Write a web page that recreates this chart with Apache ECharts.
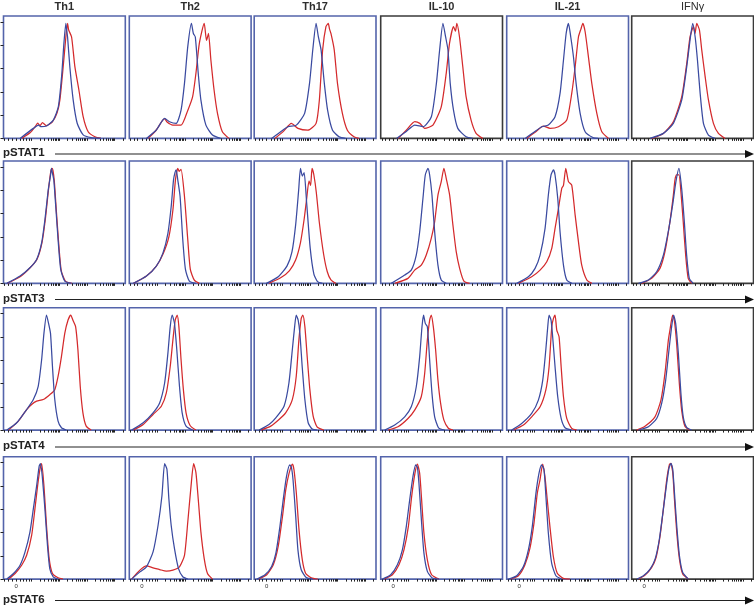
<!DOCTYPE html>
<html><head><meta charset="utf-8">
<script src="https://cdn.jsdelivr.net/npm/echarts@6/dist/echarts.min.js"></script>
<style>html,body{margin:0;padding:0;background:#fff}#c{width:754px;height:606px}</style>
</head><body><div id="c"></div>
<script>
const columns = ['Th1','Th2','Th17','IL-10','IL-21','IFNγ'];
const rowLabels = ['pSTAT1','pSTAT3','pSTAT4','pSTAT6'];
const zeroTick = 10.3;

// Row 1 – pSTAT1  ([fluorescence position (% of axis), % of max])
const r1c1Blue = [[13.6,0],[24.5,8.6],[28.6,11.4],[31,10],[35.4,10.6],[40.9,15.7],[45,27],[47.7,53],[49.6,81.5],[51.2,98.7],[52,92],[52.6,87],[54.5,61],[57.2,33],[60.5,13],[65.4,3],[72,0.6],[80,0]];
const r1c1Red  = [[15,0],[22,5],[26,10],[28,13],[30,11],[32,13.5],[35,11],[40,14],[44,22],[46.3,33],[49,61.5],[51.2,87],[52.6,98.7],[53.5,93],[55.9,87],[58.6,61.5],[61.9,41.5],[65.4,18.6],[69.5,5.7],[75,1.4],[80,0]];
const r1c2Blue = [[14.1,0],[22.2,7.2],[29,17.2],[33,14.3],[38.5,12.9],[42.5,24.3],[45.3,47.2],[48,78.7],[51,98.7],[52.6,90],[54.2,87],[56.6,55.8],[58.8,32.9],[62.9,11.4],[68.3,2.9],[75,0]];
const r1c2Red  = [[15.4,0],[22,7],[27,15],[29,17],[31,14],[35.8,11.4],[42.5,11.4],[48,24],[52,35.8],[54.7,55.8],[57.5,81.5],[61.5,98.7],[63.4,84],[65,90],[67,67],[69.6,41.5],[72.4,21.5],[76.4,5.7],[81.8,0]];
const r1c3Blue = [[14.3,0],[22,6],[27.8,10],[34.6,11.4],[41.4,21.5],[45.4,47],[48.1,76],[50.8,98.7],[52.7,87],[54.9,76],[57.6,47],[60.3,24],[64.3,7],[69.7,1.4],[75.1,0]];
const r1c3Red  = [[17,0],[24,6],[30.5,12.9],[35.9,8.6],[44,7],[50.8,12.9],[53.5,33],[56.2,76],[58.9,95.8],[60.8,98.7],[61.8,94],[63,90],[65.7,76],[68.4,47],[72.4,21.5],[76.5,7],[81.9,1.4],[86,0]];
const r1c4Blue = [[13,0],[21,6],[28,11.4],[34.8,10],[41.6,18.6],[45.7,47],[48.4,76],[51.1,98.7],[53.3,87],[55.2,76],[57.1,47],[59.8,24],[63.3,8.6],[70.1,1.4],[75.5,0]];
const r1c4Red  = [[14.4,0],[21,7],[28,14.3],[32.1,12.9],[36.1,8.6],[42.9,11.4],[49.7,27],[53.8,55.8],[56.5,81.5],[59.8,95.8],[61.4,92],[62.5,98.7],[64.7,87],[67.4,61.5],[70.1,35.8],[74.2,15.7],[78.3,4.3],[83.7,0]];
const r1c5Blue = [[15.1,0],[22,5],[28.8,10],[34.2,11.4],[39.7,18.6],[43.8,38.6],[46.6,67],[48.8,90],[50.7,98.7],[52.6,87],[54.8,70],[57,47],[60.3,21.5],[64.4,5.7],[71.2,0.5],[75,0]];
const r1c5Red  = [[16.4,0],[23,5],[30.1,10.6],[35.6,8.6],[42.5,10],[49.3,15.7],[53.4,38.6],[56.2,61.5],[58.9,87],[61,94],[62.5,98.7],[64.4,91.5],[67.1,70],[69.9,47],[74,21.5],[78.1,5.7],[83.6,0]];
const r1c6Blue = [[15.1,0],[26,4.3],[34.2,12.9],[41.1,33],[45.2,61.5],[47.9,84.4],[50.1,98.7],[52.1,87],[54,67],[56.2,38.6],[58.9,12.9],[63,2.9],[68.5,0]];
const r1c6Red  = [[16.4,0],[26,4.3],[34.2,14.3],[41.1,35.8],[45.2,64.4],[47.9,87],[50.7,95.8],[52,90],[53.4,98.7],[55.6,93],[57.5,76],[60.3,53],[63,33],[67.1,12.9],[71.2,4.3],[76.7,0]];

// Row 2 – pSTAT3
const r2c1Blue = [[2.7,0],[13.6,6.3],[21.7,13.4],[27.2,20.5],[31.3,34.7],[34,54.6],[36.7,80],[38.5,92],[39.4,98.7],[40.3,94],[41.3,88.8],[42.9,66],[44.8,37.6],[47,12],[50.3,2],[55.7,0]];
const r2c1Red  = [[3,0],[14,6],[22,13.6],[27.6,21],[31.6,35],[34.4,55.5],[37,81],[38.8,96],[39.8,98.7],[40.6,97],[41.7,88],[43.2,65],[45.2,36],[47.4,11],[50.8,2],[56,0]];
const r2c2Blue = [[3.3,0],[14.1,6.3],[22.2,14.8],[27.6,26],[31.7,43],[34.4,66],[36.3,88.8],[37.5,95],[38.5,97.3],[39.8,88.8],[41.7,74.6],[43.9,37.6],[46.1,12],[49.3,2],[54.7,0]];
const r2c2Red  = [[3.5,0],[14.1,6.3],[22.2,14.8],[27.6,25],[32.5,40],[35.8,63],[37.9,88.8],[39.8,98.7],[41,96],[42.5,97.9],[45.3,74.6],[48,37.6],[50.1,12],[53.4,2.8],[57.5,0]];
const r2c3Blue = [[10,0],[20,6],[27,15],[31,27],[34,50],[36.5,80],[38,98.7],[39.5,92],[41,95],[43,70],[46,30],[49,8],[52,1.5],[56,0]];
const r2c3Red  = [[12,0],[22,5],[29,11],[34,20],[38,35],[41,55],[43,72],[45,88],[46.3,84],[47.5,98.7],[49,93],[51,78],[53.5,52],[57,25],[60,10],[63,3],[67,0]];
const r2c4Blue = [[8.7,0],[19.7,7.2],[25.1,11.4],[29.2,24.3],[32,44.3],[34.7,73],[36.6,93],[38.8,98.7],[40.2,93],[42.1,75.8],[44.3,44.3],[47,15.7],[49.7,2.9],[53.8,0]];
const r2c4Red  = [[11.5,0],[22.4,4.3],[27.9,11.4],[33.3,15.7],[37.4,24.3],[41.5,38.6],[44.3,53],[47,75.8],[49.7,87.3],[51.9,98.7],[53.8,90],[56.6,75.8],[59.3,50],[62,27.2],[64.8,12.9],[68.3,2],[73,0]];
const r2c5Blue = [[8.2,0],[17.8,5.7],[23.3,12.9],[27.4,24.3],[31.5,47.2],[34.2,75.8],[36.4,93],[38.4,97.3],[39.7,93],[41.9,73],[43.8,44.3],[46.6,15.7],[49.3,2.9],[53.4,0]];
const r2c5Red  = [[9.6,0],[20.5,5.7],[27.4,11.4],[32.9,18.6],[37,30],[39.7,47.2],[42.5,64.4],[45.2,81.5],[46.6,84],[48.5,98.7],[50.7,87.3],[53.4,84.4],[56.2,58.6],[58.9,35.8],[61.6,15.7],[65.8,2.9],[69.9,0]];
const r2c6Blue = [[5.5,0],[13.7,2.9],[20.5,10],[26,24.3],[30,44.3],[33.6,67.2],[36.3,87.3],[38.8,98.7],[41,81.5],[43.2,53],[45.1,24.3],[47.3,4.3],[50.5,0]];
const r2c6Red  = [[8.2,0],[16.4,4.3],[23.2,12.9],[27.3,27.2],[31.4,53],[34.2,75.8],[35.5,88.7],[36.9,93],[38.8,93],[40.4,78.7],[42.3,53],[44.3,24.3],[46.4,4.3],[49.2,0]];

// Row 3 – pSTAT4
const r3c1Blue = [[2.7,0],[10.9,6.3],[19,17.6],[24.5,26.2],[28.5,37.6],[31.3,60.3],[33.2,83],[35.3,98.7],[37,91.6],[38.6,83],[40.2,54.6],[42.1,26.2],[44.8,7.7],[47.6,2],[51.6,0]];
const r3c1Red  = [[4.1,0],[12.2,7.7],[19,17.6],[23.1,22],[27.2,24.8],[32.6,26.2],[38,30.4],[42.1,34.7],[44.8,46],[47.6,63.2],[50.3,83],[53,94.4],[55.2,98.7],[57.1,94],[59.2,88.8],[61.1,68.9],[63,37.6],[65.2,14.8],[67.9,3.4],[72,0]];
const r3c2Blue = [[1.9,0],[11.4,6.3],[19.5,14.8],[24.9,23.3],[29,40.4],[31.7,66],[33.6,88.8],[35.2,98.7],[37.1,91.6],[39,68.9],[41.2,37.6],[43.4,14.8],[46.6,3.4],[52,0]];
const r3c2Red  = [[3.3,0],[11.4,4.8],[19.5,13.4],[26.3,20.5],[30.4,31.9],[33.6,54.6],[35.8,77.4],[37.7,94.4],[39.3,98.7],[40.7,88.8],[42.5,60.3],[44.4,34.7],[46.6,14.8],[49.9,4],[54.7,0]];
const r3c3Blue = [[4.1,0],[12.2,4.8],[17.7,10.5],[24.5,20.5],[28.5,40.4],[31.3,68.9],[33.2,88.8],[34.5,98.7],[36.1,94.4],[37.5,83],[39.4,54.6],[41.6,26.2],[44.3,6.3],[47.6,1],[51.6,0]];
const r3c3Red  = [[5.4,0],[13.6,3.4],[20.4,9.1],[25.8,14.8],[31.3,26.2],[34.5,46],[36.7,77.4],[38.6,95.8],[39.9,98.7],[41.6,88.8],[43.5,63.2],[45.7,34.7],[48.4,12],[51.6,2.8],[57.1,0]];
const r3c4Blue = [[3.3,0],[11.5,4.3],[19.7,11.4],[25.1,20],[29.2,37.2],[32,63],[33.9,88.7],[35.2,98.7],[36.6,91.6],[38.3,88.7],[40.2,60],[42.1,31.5],[44.3,11.4],[47.5,2],[52.5,0]];
const r3c4Red  = [[6,0],[14.2,2.9],[22.4,10],[27.9,17.2],[33.3,28.6],[36.1,48.6],[38.3,77.2],[40.2,94.4],[41.5,98.7],[43.2,88.7],[45.1,68.7],[47,42.9],[49.2,22.9],[51.9,8.6],[55.7,1.4],[59.3,0]];
const r3c5Blue = [[4.1,0],[12.3,5.7],[20.5,14.3],[26,25.7],[29.6,42.9],[32.1,68.7],[33.7,88.7],[34.8,98.7],[36.4,94.4],[37.5,83],[39.7,54.4],[41.9,28.6],[44.7,10],[47.9,2],[53.4,0]];
const r3c5Red  = [[5.5,0],[13.7,4.3],[20.5,11.4],[27.4,20],[32.1,34.3],[34.8,54.4],[37,88.7],[38.4,95.8],[39.7,98.7],[41.1,85.8],[43,80.1],[44.7,54.4],[46.6,28.6],[49.3,10],[53.4,1.4],[57.5,0]];
const r3c6Blue = [[5.5,0],[13.7,2.9],[20.5,10],[24.6,22.9],[27.9,42.9],[30.6,68.7],[32.8,88.7],[34.4,98.7],[36.1,91.6],[38.3,65.8],[40.4,31.5],[42.3,11.4],[45.1,2.3],[49.2,0]];
const r3c6Red  = [[4.1,0],[10.9,3.4],[19.1,11.4],[24,25.7],[27.3,48.6],[30.1,77.2],[31.4,85.8],[33.6,98.7],[35,94],[36.9,74.4],[39.1,40],[41,17.2],[43.7,3.4],[47.8,0]];

// Row 4 – pSTAT6
const r4c1Blue = [[2.7,0],[8.2,4.8],[13.6,11.9],[17.7,23.3],[21.7,40.3],[24.5,60.2],[27.2,80],[29.3,97],[30.4,99],[31.8,88.5],[34,60.2],[36.1,29],[38,9],[40.8,2],[44.8,0]];
const r4c1Red  = [[4.1,0],[9.5,4.8],[14.9,11.9],[19,20.4],[23.1,37.5],[25.8,60.2],[28,80],[29.9,94.2],[31.3,99],[33.2,80],[35.3,46],[37.5,17.6],[40.2,4.8],[44.8,1.1],[48.9,0]];
const r4c2Blue = [[1.9,0],[8.7,6.2],[14.1,10.5],[19.5,23.3],[23.6,46],[26.8,71.5],[29,99],[30.9,94.2],[32.5,68.7],[34.4,46],[37.1,26.1],[40.4,9],[43.9,2],[48,0]];
const r4c2Red  = [[1.9,0],[8.7,7.7],[14.1,11.4],[19.5,9.6],[24.9,8.2],[30.4,6.8],[35.8,7.7],[41.2,10.5],[45.3,20.4],[48,48.8],[50.7,80],[52.8,99],[54.7,91.4],[56.6,68.7],[58.8,40.3],[61.5,17.6],[64.2,4.8],[68.3,0]];
const r4c3Blue = [[2.2,0],[8.9,3.7],[14.3,10.8],[17.8,22.3],[21.1,45],[23.8,68],[26.5,88],[29.2,97.9],[30.5,96],[31.9,85],[34.1,53.6],[35.9,25.1],[38.6,8],[42.7,1.4],[48.1,0]];
const r4c3Red  = [[3.5,0],[10.3,3.7],[15.7,12.3],[19.7,28],[23.2,53.6],[25.9,76.5],[28.6,90.7],[31.4,98.7],[32.7,93.6],[34.6,73.6],[36.8,42.2],[39.5,16.5],[42.2,5.1],[46.8,1.1],[52.2,0]];
const r4c4Blue = [[1.4,0],[8.2,3.7],[13.7,12.3],[17.8,25.1],[21,45],[23.8,68],[26.5,88],[28.7,97.9],[30.1,96],[31.4,82.2],[33.6,48],[35.5,22.3],[38.3,6.6],[42.3,0.9],[47.8,0]];
const r4c4Red  = [[2.7,0],[9.6,3.7],[15,12.3],[19.1,25.1],[22.7,45],[25.4,70.8],[28.1,90.7],[30.1,98.7],[32,90.7],[33.6,68],[35.5,39.4],[38.3,16.5],[41.8,3.7],[47.8,0]];
const r4c5Blue = [[1.4,0],[8.2,2.9],[13.7,10.8],[17.8,25.1],[21,45],[24,73.6],[26.5,90.7],[28.7,97.9],[30.6,94],[32.2,70.8],[34.2,39.4],[36.9,13.7],[40.4,2.9],[45.1,0]];
const r4c5Red  = [[2.7,0],[9.6,2.9],[15,12.3],[19.1,26.5],[22.4,48],[25.1,73.6],[27.3,85],[29.5,98.7],[31.4,88],[33.3,68],[35.5,45],[38.3,19.4],[41.5,5.1],[46.4,0.6],[51.9,0]];
const r4c6Blue = [[4.1,0],[9.6,2.9],[15.1,8.6],[19.2,17.1],[22.7,34.2],[26,60],[28.8,82.7],[30.7,95.6],[32.3,99.3],[33.7,94.2],[35.1,74.2],[37,45.7],[39.2,20],[41.9,5.7],[46.6,0]];
const r4c6Red  = [[5.5,0],[11,3.4],[16.4,10],[20,18.5],[23.3,37.1],[26,60],[28.8,85.6],[31,98.4],[32.1,99.3],[33.7,91.3],[35.1,68.5],[37,40],[39.2,17.1],[41.9,4.3],[46.6,0]];

const blueSets = [
  [r1c1Blue,r1c2Blue,r1c3Blue,r1c4Blue,r1c5Blue,r1c6Blue],
  [r2c1Blue,r2c2Blue,r2c3Blue,r2c4Blue,r2c5Blue,r2c6Blue],
  [r3c1Blue,r3c2Blue,r3c3Blue,r3c4Blue,r3c5Blue,r3c6Blue],
  [r4c1Blue,r4c2Blue,r4c3Blue,r4c4Blue,r4c5Blue,r4c6Blue]];
const redSets = [
  [r1c1Red,r1c2Red,r1c3Red,r1c4Red,r1c5Red,r1c6Red],
  [r2c1Red,r2c2Red,r2c3Red,r2c4Red,r2c5Red,r2c6Red],
  [r3c1Red,r3c2Red,r3c3Red,r3c4Red,r3c5Red,r3c6Red],
  [r4c1Red,r4c2Red,r4c3Red,r4c4Red,r4c5Red,r4c6Red]];

// layout
const colLeft = [3.5, 129.3, 254.2, 380.7, 506.7, 631.7];
const panelW = 121.8;
const rowTop = [16, 161, 307.7, 456.7];
const panelH = 122.4;
const labelY = [153, 298.5, 446, 599.5];
const BLUE_BORDER = '#5464ab', DARK_BORDER = '#3a3a3a';
const BLUE_LINE = '#3a4aa0', RED_LINE = '#d42a2c';

// x-axis (logicle-like) tick positions
const decades = [23, 45.7, 68.5, 91.2];
const dStep = 22.7;
const xTicks = [1, 3.8, 6.8, zeroTick, 13.6, 16.5, 19, 21.2];
decades.forEach(a => { xTicks.push(a); for (let k = 2; k <= 9; k++) { const v = a + dStep * Math.log10(k); if (v < 100) xTicks.push(+v.toFixed(2)); } });

const grids = [], xAxes = [], yAxes = [], series = [];
for (let r = 0; r < 4; r++) {
  for (let c = 0; c < 6; c++) {
    const k = r * 6 + c;
    const dark = (c === 5) || (r === 0 && c === 3);
    grids.push({ left: colLeft[c], top: rowTop[r], width: panelW, height: panelH,
      show: true, borderColor: dark ? DARK_BORDER : BLUE_BORDER, borderWidth: 1.6, backgroundColor: 'transparent' });
    xAxes.push({ type: 'value', gridIndex: k, min: 0, max: 100,
      axisLine: { show: false }, splitLine: { show: false },
      axisTick: { show: true, customValues: xTicks, length: 2.5, lineStyle: { color: '#222', width: 1 } },
      axisLabel: r === 3 ? { show: true, customValues: [zeroTick], formatter: () => '0', fontSize: 6, color: '#333', margin: 4, fontFamily: 'Liberation Sans' } : { show: false } });
    yAxes.push({ type: 'value', gridIndex: k, min: 0, max: 105,
      axisLine: { show: false }, splitLine: { show: false },
      axisTick: { show: c === 0, customValues: [0, 20, 40, 60, 80, 100], length: 3, lineStyle: { color: '#222', width: 1 } },
      axisLabel: { show: false } });
    series.push({ type: 'line', xAxisIndex: k, yAxisIndex: k, data: redSets[r][c], showSymbol: false, smooth: 0.2,
      lineStyle: { color: RED_LINE, width: 1.25 }, z: 2, silent: true });
    series.push({ type: 'line', xAxisIndex: k, yAxisIndex: k, data: blueSets[r][c], showSymbol: false, smooth: 0.2,
      lineStyle: { color: BLUE_LINE, width: 1.25 }, z: 3, silent: true });
  }
}

const graphics = [];
columns.forEach((name, c) => {
  const isIFN = name.startsWith('IFN');
  graphics.push({ type: 'text', style: {
    text: name, x: colLeft[c] + panelW / 2, y: 7, align: 'center', verticalAlign: 'middle',
    font: (isIFN ? 'normal ' : 'bold ') + '11px "Liberation Sans", Arial, sans-serif', fill: '#2e2e2e' } });
});
rowLabels.forEach((lab, r) => {
  const y = labelY[r];
  graphics.push({ type: 'text', style: { text: lab, x: 3, y: y, verticalAlign: 'middle', align: 'left',
    font: 'bold 11.5px "Liberation Sans", Arial, sans-serif', fill: '#222' } });
  graphics.push({ type: 'line', shape: { x1: 55, y1: y + 1, x2: 746, y2: y + 1 }, style: { stroke: '#222', lineWidth: 1.2 } });
  graphics.push({ type: 'polygon', shape: { points: [[745, y - 3], [754, y + 1], [745, y + 5]] }, style: { fill: '#111' } });
});

const chart = echarts.init(document.getElementById('c'), null, { renderer: 'canvas' });
chart.setOption({ animation: false, grid: grids, xAxis: xAxes, yAxis: yAxes, series: series, graphic: graphics });
</script></body></html>
